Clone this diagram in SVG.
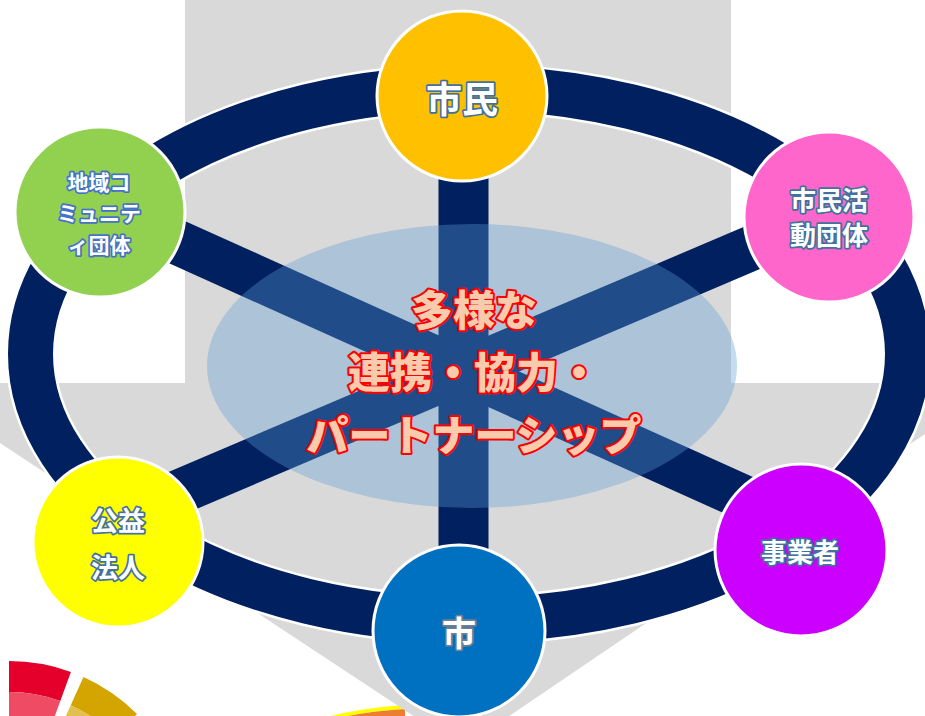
<svg xmlns="http://www.w3.org/2000/svg" width="925" height="716" viewBox="0 0 925 716">
  <style>
    .node { stroke: #ffffff; stroke-width: 3; }
    .lbl { font-family: "Noto Sans CJK JP", "Noto Sans", sans-serif; font-weight: 700; fill: #ffffff; stroke: #41719c; stroke-width: 3.5; paint-order: stroke; stroke-linejoin: round; text-anchor: middle; }
    .center { font-family: "Noto Sans CJK JP", "Noto Sans", sans-serif; font-weight: 900; font-size: 42px; fill: #f8cbad; stroke: #ff0000; stroke-width: 4; paint-order: stroke; stroke-linejoin: round; text-anchor: middle; }
    .spoke { stroke: #002060; stroke-linecap: butt; fill: none; }
  </style>

  <!-- background decorations -->
  <g id="wheel-left">
    <path d="M9,661 A181,181 0 0 1 70.9,671.9 L60.3,701 A150,150 0 0 0 9,692 Z" fill="#e4002b"/>
    <path d="M9,692 A150,150 0 0 1 60.3,701 L43.2,748 A100,100 0 0 0 9,742 Z" fill="#ef4b65"/>
    <path d="M83.5,677 A181,181 0 0 1 137,714 L115,736 A150,150 0 0 0 70.7,705.3 Z" fill="#d4a500"/>
    <path d="M70.7,705.3 A150,150 0 0 1 115,736 L80,813 A100,100 0 0 0 50,751 Z" fill="#e2c050"/>
  </g>
  <g id="wheel-bottom">
    <path d="M330,716 Q362,708 405,705 L405,709 Q372,711 348,716 Z" fill="#ffff00"/>
    <path d="M348,716 Q372,711 405,709 L405,716 Z" fill="#ed7d31"/>
  </g>
  <polygon id="arrow" points="185,0 731,0 731,383 925,383 925,434 462,748 0,443 0,383 185,383" fill="#d9d9d9"/>

  <!-- connectors -->
  <g id="connectors">
    <ellipse cx="469" cy="354" rx="438.5" ry="266" fill="none" stroke="#ffffff" stroke-width="50"/>
    <ellipse cx="469" cy="354" rx="438.5" ry="266" fill="none" stroke="#002060" stroke-width="45"/>
    <line class="spoke" x1="463.5" y1="96" x2="463.5" y2="632" stroke-width="50"/>
    <line class="spoke" x1="100" y1="207.4" x2="801" y2="523.3" stroke-width="45"/>
    <line class="spoke" x1="829" y1="215" x2="118" y2="518" stroke-width="45"/>
  </g>

  <!-- central area -->
  <g id="center">
    <ellipse cx="472" cy="366" rx="265" ry="142" fill="#5b9bd5" fill-opacity="0.36"/>
    <text class="center" x="474" y="326">多様な</text>
    <text class="center" x="474" y="388">連携・協力・</text>
    <text class="center" x="474" y="451">パートナーシップ</text>
  </g>

  <g id="node-shimin">
    <circle class="node" cx="462" cy="96" r="85" fill="#ffc000"/>
    <text class="lbl" x="462" y="113" font-size="36">市民</text>
  </g>
  <g id="node-shimin-katsudo">
    <circle class="node" cx="829" cy="217" r="85" fill="#ff66cc"/>
    <text class="lbl" x="829" y="210" font-size="26">市民活</text>
    <text class="lbl" x="829" y="245" font-size="26">動団体</text>
  </g>
  <g id="node-chiiki">
    <circle class="node" cx="100" cy="212" r="85" fill="#92d050"/>
    <text class="lbl" x="99" y="190" font-size="21" style="stroke:#4472c4">地域コ</text>
    <text class="lbl" x="99" y="221" font-size="21" style="stroke:#4472c4">ミュニテ</text>
    <text class="lbl" x="99" y="253" font-size="21" style="stroke:#4472c4">ィ団体</text>
  </g>
  <g id="node-koeki">
    <circle class="node" cx="118" cy="542" r="85" fill="#ffff00"/>
    <text class="lbl" x="118" y="531" font-size="27">公益</text>
    <text class="lbl" x="118" y="578" font-size="27">法人</text>
  </g>
  <g id="node-jigyosha">
    <circle class="node" cx="801" cy="550" r="86" fill="#cc00ff"/>
    <text class="lbl" x="800" y="562" font-size="26">事業者</text>
  </g>
  <g id="node-shi">
    <circle class="node" cx="459" cy="631" r="86" fill="#0070c0"/>
    <text class="lbl" x="459" y="646" font-size="34" style="stroke:#6f7f8f">市</text>
  </g>
</svg>
